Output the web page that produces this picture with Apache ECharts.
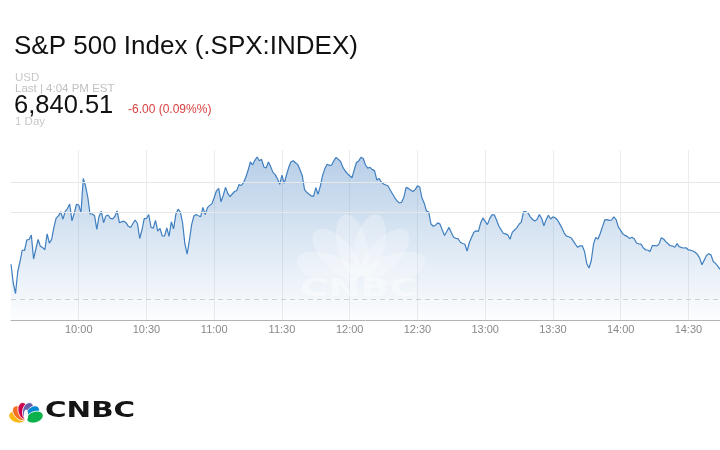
<!DOCTYPE html>
<html><head><meta charset="utf-8">
<script src="https://cdn.jsdelivr.net/npm/echarts@6/dist/echarts.min.js"></script>
<style>html,body{margin:0;padding:0;background:#fff}#c{width:720px;height:450px}</style>
</head><body><div id="c"></div>
<script>
// ---- content ----
const titleText = 'S&P 500 Index (.SPX:INDEX)';
const currencyText = 'USD';
const lastText = 'Last | 4:04 PM EST';
const priceText = '6,840.51';
const changeText = '-6.00 (0.09%%)';
const rangeText = '1 Day';
const brandText = 'CNBC';

// x axis: minutes since 9:30, one point per minute
const tickLabels = ['9:30','10:00','10:30','11:00','11:30','12:00','12:30','13:00','13:30','14:00','14:30'];
const tickStep = 30;
const sessionMinutes = 314;

const prices = [
6847.54,6843.80,6841.70,6846.10,6848.10,6850.40,6850.30,6852.40,6852.52,6853.40,
6848.60,6850.60,6852.50,6851.16,6850.88,6850.46,6853.62,6851.76,6852.52,6854.92,
6856.78,6857.22,6858.04,6856.56,6858.10,6858.68,6859.60,6856.24,6857.70,6859.56,
6859.38,6857.86,6864.70,6863.24,6861.00,6857.60,6857.60,6857.26,6854.52,6857.12,
6858.16,6855.86,6857.20,6857.40,6856.74,6856.64,6857.10,6858.24,6855.88,6856.04,
6856.16,6855.82,6855.14,6854.90,6855.70,6856.40,6855.70,6852.70,6854.40,6856.68,
6856.74,6857.50,6854.94,6854.78,6856.32,6854.18,6854.72,6853.20,6853.20,6854.84,
6853.14,6856.04,6854.62,6857.54,6858.56,6857.96,6855.80,6851.66,6849.56,6852.32,
6855.46,6857.20,6857.50,6857.26,6857.06,6858.92,6857.48,6858.88,6859.32,6859.68,
6860.90,6862.24,6862.72,6860.04,6861.32,6862.94,6861.72,6861.06,6861.60,6862.10,
6862.30,6863.50,6863.30,6863.88,6864.96,6866.34,6868.00,6867.44,6868.34,6869.00,
6868.26,6868.54,6867.00,6866.82,6868.00,6867.08,6865.92,6865.48,6864.64,6863.54,
6865.36,6863.72,6865.40,6866.94,6868.06,6868.26,6867.84,6867.48,6866.44,6865.26,
6862.48,6861.94,6861.56,6861.22,6861.14,6862.88,6861.56,6863.16,6865.32,6866.68,
6867.56,6867.34,6867.38,6868.26,6868.92,6868.52,6868.06,6866.92,6866.20,6865.66,
6865.26,6864.84,6866.44,6867.90,6868.22,6868.96,6868.70,6867.40,6866.78,6866.94,
6866.48,6866.28,6864.42,6864.72,6864.00,6863.60,6863.40,6863.20,6862.36,6861.60,
6860.84,6860.20,6859.82,6859.96,6860.96,6862.92,6862.72,6862.40,6862.10,6862.48,
6863.22,6863.00,6860.80,6859.76,6858.20,6858.02,6855.60,6855.16,6855.36,6855.82,
6855.58,6854.40,6853.30,6854.10,6854.92,6853.88,6852.94,6852.74,6852.66,6851.94,
6851.70,6851.56,6850.20,6851.90,6852.94,6853.96,6854.24,6854.12,6855.80,6856.82,
6856.12,6855.48,6856.68,6857.42,6857.44,6856.46,6855.26,6854.48,6853.76,6853.62,
6853.42,6852.56,6853.92,6854.40,6854.82,6855.54,6855.98,6858.06,6858.06,6857.80,
6857.02,6856.50,6856.18,6856.54,6857.48,6856.74,6855.26,6856.48,6857.34,6856.60,
6857.02,6856.84,6856.40,6855.62,6854.82,6853.78,6853.18,6853.04,6852.86,6852.24,
6851.54,6850.94,6851.24,6851.24,6850.10,6847.66,6846.80,6848.30,6851.62,6852.90,
6852.60,6853.76,6855.12,6856.44,6856.46,6856.34,6856.40,6857.04,6856.46,6854.96,
6854.32,6853.58,6853.32,6853.08,6852.68,6852.94,6852.64,6851.80,6851.64,6851.56,
6850.86,6850.44,6850.40,6850.08,6851.26,6851.30,6851.20,6851.58,6852.84,6852.60,
6852.08,6851.64,6851.26,6851.20,6850.96,6851.68,6851.04,6850.88,6850.80,6850.84,
6850.40,6850.36,6850.20,6849.94,6849.52,6848.78,6847.44,6848.36,6849.28,6849.64,
6849.42,6848.10,6847.72,6847.16,6846.54
];

const gridLevels = [6864, 6858];
const refLevel = 6840.51;
const yMin = 6836.4, yMax = 6870.4;

// ---- styles ----
const FONT = '"Liberation Sans", Arial, sans-serif';
const lineColor = '#3f7fbf';
const featherColors = ['#fcb711', '#f37021', '#cc004c', '#6460aa', '#0089d0', '#0db14b'];
const featherAngles = [-72, -43, -14, 14, 43, 72];

function peacock(bx, by, len, rx, fills, opacity, stroke, z) {
  return featherAngles.map((a, i) => {
    const t = a * Math.PI / 180;
    const d = len * 0.55;
    return {
      type: 'ellipse', z: z, silent: true,
      x: bx + d * Math.sin(t), y: by - d * Math.cos(t),
      rotation: -t,
      shape: { cx: 0, cy: 0, rx: rx, ry: len * 0.5 },
      style: { fill: fills[i], opacity: opacity, stroke: stroke, lineWidth: stroke ? 0.8 : 0 }
    };
  });
}

function txt(x, y, text, size, color, weight) {
  return { type: 'text', x: x, y: y, z: 50, silent: true,
    style: { text: text, fill: color, font: (weight || 'normal') + ' ' + size + 'px ' + FONT,
      align: 'left', verticalAlign: 'middle' } };
}

const graphics = [
  txt(14, 46.5, titleText, 26, '#111'),
  txt(15, 77.5, currencyText, 11.5, '#c8c8c8'),
  txt(15, 89, lastText, 11.5, '#c0c0c0'),
  txt(14, 105.5, priceText, 25.5, '#111'),
  txt(128, 109.5, changeText, 12, '#d9403f'),
  txt(15, 122, rangeText, 11.5, '#c8c8c8'),
  // watermark
  ...peacock(361, 280, 64, 15, featherColors.map(() => '#ffffff'), 0.26, null, 60),
  { type: 'text', x: 300, y: 290, z: 60, scaleX: 1.6, silent: true,
    style: { text: brandText, fill: '#ffffff', opacity: 0.4, font: 'bold 24px "DejaVu Sans", sans-serif',
      align: 'left', verticalAlign: 'middle' } },
  // logo
  ...peacock(26, 420, 17, 5.6, featherColors, 1, '#ffffff', 70),
  { type: 'ellipse', z: 71, silent: true, x: 26, y: 415, shape: { cx: 0, cy: 0, rx: 2.2, ry: 5.5 },
    style: { fill: '#ffffff' } },
  { type: 'text', x: 45, y: 412, z: 70, scaleX: 1.4, silent: true,
    style: { text: brandText, fill: '#151515', font: 'bold 21px "DejaVu Sans", sans-serif',
      align: 'left', verticalAlign: 'middle' } }
];

const chart = echarts.init(document.getElementById('c'), null, { renderer: 'canvas' });
chart.setOption({
  animation: false,
  backgroundColor: '#ffffff',
  grid: { left: 11, right: 0, top: 150, bottom: 130, containLabel: false, outerBoundsMode: 'none' },
  xAxis: {
    type: 'value', min: 0, max: sessionMinutes, interval: tickStep,
    axisLine: { lineStyle: { color: '#b3b3b3', width: 1 } },
    axisTick: { show: false },
    axisLabel: { color: '#888888', fontSize: 11, fontFamily: FONT, margin: 4,
      showMinLabel: false, showMaxLabel: false, hideOverlap: false,
      formatter: v => (v % tickStep === 0 ? tickLabels[v / tickStep] : '') },
    splitLine: { show: true, showMinLine: false, showMaxLine: false, lineStyle: { color: '#ececec', width: 1 } }
  },
  yAxis: { type: 'value', min: yMin, max: yMax, show: false },
  series: [
    { type: 'line', z: 1, data: [], silent: true,
      markLine: { symbol: 'none', silent: true, label: { show: false },
        data: [
          ...gridLevels.map(v => ({ yAxis: v, lineStyle: { color: '#e8e8e8', type: 'solid', width: 1 } })),
          { yAxis: refLevel, lineStyle: { color: '#cfcfcf', type: [5, 4], width: 1 } }
        ] } },
    { type: 'line', z: 2, symbol: 'none', sampling: null,
      data: prices.map((p, i) => [i, p]),
      lineStyle: { color: lineColor, width: 1.2 },
      areaStyle: { color: new echarts.graphic.LinearGradient(0, 0, 0, 1, [
        { offset: 0, color: 'rgba(70,130,195,0.55)' },
        { offset: 1, color: 'rgba(70,130,195,0.02)' }
      ]) } }
  ],
  graphic: graphics
});
</script></body></html>
